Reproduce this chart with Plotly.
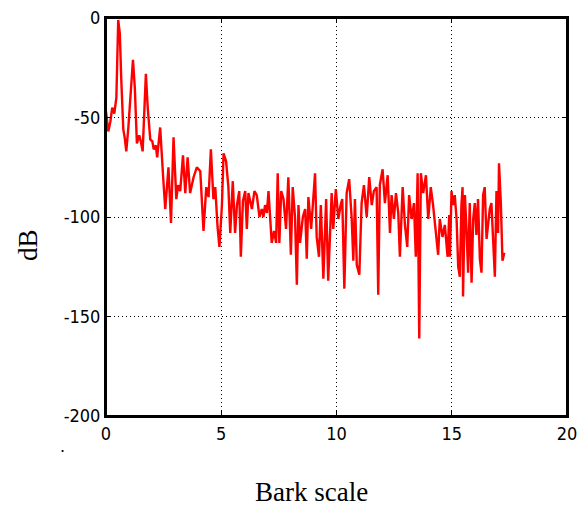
import plotly.graph_objects as go

bark = [0.00, 0.10, 0.19, 0.27, 0.36, 0.45, 0.53, 0.60, 0.66, 0.75, 0.81, 0.88, 0.97, 1.07, 1.17, 1.25,
        1.34, 1.44, 1.51, 1.59, 1.66, 1.73, 1.81, 1.92, 2.01, 2.07, 2.16, 2.22, 2.35, 2.43, 2.48, 2.57,
        2.71, 2.82, 2.93, 3.05, 3.13, 3.22, 3.34, 3.44, 3.54, 3.65, 3.80, 3.94, 4.09, 4.23, 4.35, 4.45,
        4.55, 4.66, 4.74, 4.84, 4.92, 5.03, 5.10, 5.21, 5.31, 5.39, 5.50, 5.60, 5.68, 5.78, 5.85, 5.94,
        6.04, 6.11, 6.18, 6.33, 6.44, 6.54, 6.66, 6.76, 6.83, 6.90, 6.98, 7.05, 7.12, 7.19, 7.29, 7.38,
        7.45, 7.52, 7.60, 7.70, 7.81, 7.91, 8.02, 8.10, 8.20, 8.28, 8.35, 8.42, 8.54, 8.64, 8.71, 8.78,
        8.90, 8.97, 9.07, 9.14, 9.24, 9.32, 9.43, 9.55, 9.64, 9.79, 9.86, 9.97, 10.08, 10.18, 10.25, 10.34,
        10.44, 10.55, 10.66, 10.73, 10.80, 10.88, 10.99, 11.09, 11.19, 11.31, 11.42, 11.53, 11.62, 11.74,
        11.81, 11.88, 12.00, 12.10, 12.22, 12.32, 12.39, 12.49, 12.58, 12.68, 12.75, 12.87, 12.97, 13.07,
        13.15, 13.26, 13.36, 13.44, 13.52, 13.59, 13.66, 13.76, 13.88, 13.98, 14.09, 14.19, 14.31, 14.41,
        14.48, 14.60, 14.70, 14.82, 14.89, 14.92, 14.99, 15.06, 15.13, 15.21, 15.28, 15.35, 15.42, 15.47,
        15.49, 15.57, 15.64, 15.71, 15.78, 15.86, 15.93, 16.00, 16.07, 16.14, 16.22, 16.29, 16.36, 16.43,
        16.51, 16.58, 16.65, 16.72, 16.79, 16.87, 16.94, 17.01, 17.05, 17.13, 17.20, 17.28]

db = [-47, -57, -52, -45, -48, -40, -1, -8, -30, -56, -60, -67, -55, -40, -21, -35,
      -63, -59, -62, -67, -45, -28, -45, -61, -62, -66, -64, -70, -55, -75, -80, -96,
      -75, -103, -60, -91, -84, -87, -69, -88, -70, -88, -80, -75, -77, -107, -85, -90,
      -66, -91, -85, -105, -115, -94, -68, -72, -85, -108, -82, -108, -94, -87, -120, -92,
      -87, -106, -88, -96, -87, -89, -100, -96, -100, -94, -98, -87, -100, -113, -107, -113,
      -78, -113, -87, -91, -106, -80, -119, -85, -100, -134, -94, -113, -100, -96, -121, -90,
      -106, -94, -78, -110, -120, -94, -131, -91, -132, -88, -106, -86, -101, -94, -91, -136,
      -88, -81, -101, -122, -91, -124, -129, -93, -84, -100, -80, -94, -87, -85,
      -139, -84, -76, -93, -79, -108, -89, -101, -88, -98, -120, -85, -104, -115,
      -89, -101, -93, -120, -78, -161, -78, -88, -79, -101, -85, -94, -106, -119,
      -101, -110, -104, -120, -99, -120, -87, -94, -89, -101, -125, -130, -94, -85,
      -140, -89, -106, -128, -93, -133, -101, -93, -109, -91, -121, -128, -89, -85,
      -111, -104, -96, -93, -114, -130, -87, -108, -73, -93, -122, -118]

x_ticks = [0, 5, 10, 15, 20]
y_ticks = [-200, -150, -100, -50, 0]

fig = go.Figure()
fig.add_trace(go.Scatter(x=bark, y=db, mode="lines",
                         line=dict(color="#ff0000", width=2.4), showlegend=False))

tick_font = dict(family="Liberation Sans Narrow, DejaVu Sans Condensed, Liberation Sans, Arial",
                 size=18, color="black")
axis_common = dict(showline=True, linecolor="#000000", linewidth=2, mirror="ticks",
                   ticks="inside", ticklen=5, tickcolor="#000000", tickwidth=1,
                   showgrid=True, gridcolor="#000000", gridwidth=1, griddash="1px,3px",
                   zeroline=False, tickfont=tick_font, automargin=False,
                   ticklabeloverflow="allow")

fig.update_xaxes(range=[0, 20], tickvals=x_ticks, ticktext=[str(v) for v in x_ticks], **axis_common)
fig.update_yaxes(range=[-200, 0], tickvals=y_ticks, ticktext=[str(v) for v in y_ticks], **axis_common)

W, H = 577, 507
l, r, t, b = 106, 10, 18, 91
pw, ph = W - l - r, H - t - b

def px_to_paper(px, py):
    return (px - l) / pw, 1 - (py - t) / ph

labels = [
    ("Bark scale", 311, 492, 0, dict(family="Liberation Serif, Times New Roman, serif", size=27, color="black")),
    ("dB", 28, 245, -90, dict(family="Liberation Serif, Times New Roman, serif", size=27, color="black")),
    (".", 62, 446, 0, dict(family="Liberation Sans", size=18, color="black")),
]
anns = []
for text, px, py, ang, font in labels:
    xp, yp = px_to_paper(px, py)
    anns.append(dict(text=text, x=xp, y=yp, xref="paper", yref="paper", showarrow=False,
                     textangle=ang, xanchor="center", yanchor="middle", font=font))

fig.update_layout(
    width=W, height=H,
    margin=dict(l=l, r=r, t=t, b=b),
    plot_bgcolor="white", paper_bgcolor="white",
    annotations=anns,
    shapes=[dict(type="rect", xref="paper", yref="paper", x0=0, y0=0, x1=1, y1=1,
                 line=dict(color="#000000", width=2), layer="above")],
)

fig.write_html("out.html")
